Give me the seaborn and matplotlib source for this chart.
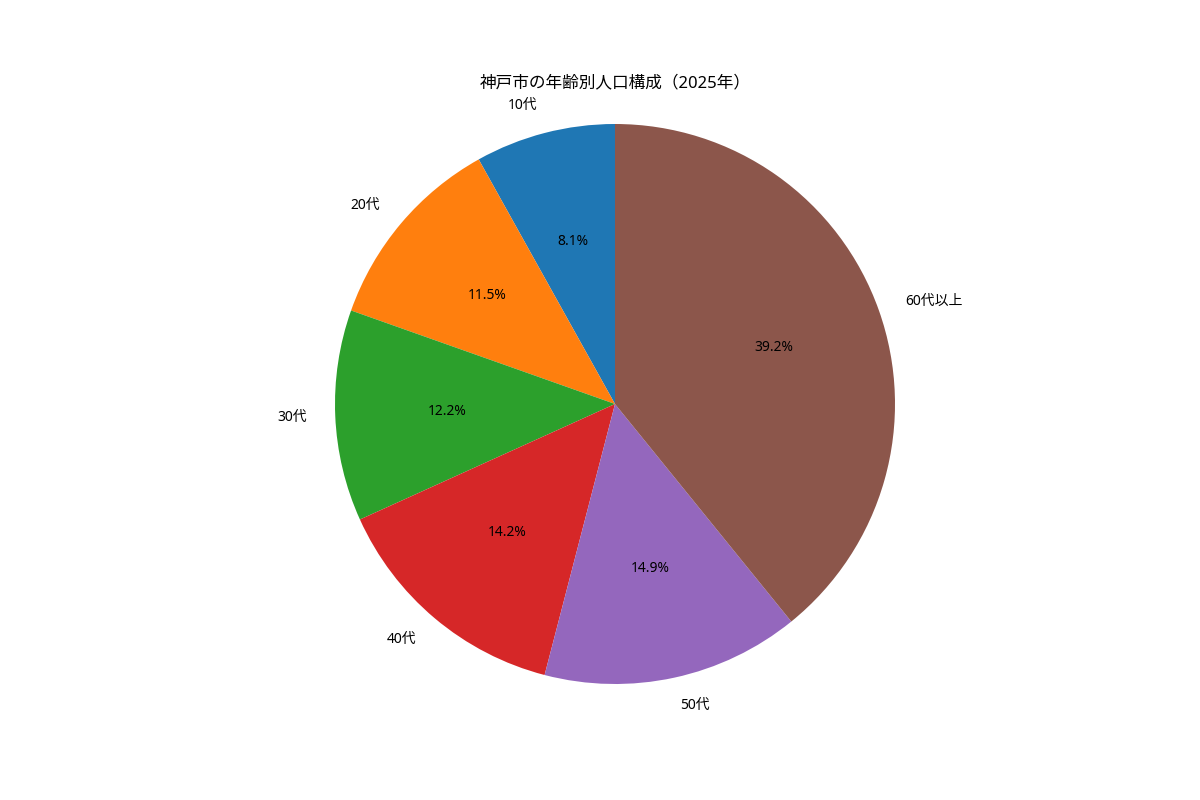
import matplotlib
matplotlib.use("Agg")
import matplotlib.pyplot as plt
import seaborn as sns

labels = ["10代", "20代", "30代", "40代", "50代", "60代以上"]
shares = [8.1, 11.5, 12.2, 14.2, 14.9, 39.2]
title = "神戸市の年齢別人口構成（2025年）"

plt.rcParams['font.family'] = ['Noto Sans', 'Noto Sans CJK JP', 'DejaVu Sans']

colors = sns.color_palette("tab10", len(labels))

fig, ax = plt.subplots(figsize=(12, 8), dpi=100)
ax.pie(shares, labels=labels, colors=colors, autopct="%1.1f%%", startangle=90)
ax.set_title(title)
ax.axis("equal")
fig.savefig("out.png", dpi=100)
